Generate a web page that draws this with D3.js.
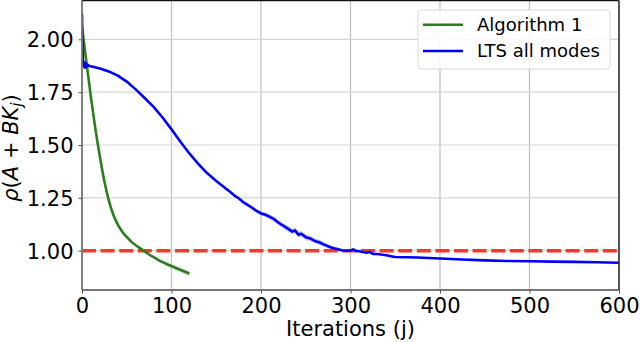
<!DOCTYPE html>
<html>
<head>
<meta charset="utf-8">
<script src="https://cdn.jsdelivr.net/npm/d3@7"></script>
<style>
  html, body { margin: 0; padding: 0; background: #fff; }
  svg { display: block; font-family: "DejaVu Sans", sans-serif; }
</style>
</head>
<body>
<svg id="chart" width="640" height="342"></svg>
<script>
// ---- data ----
const greenIter = [0, 5, 10, 15, 20, 25, 30, 35, 40, 45, 50, 55, 60, 65, 70, 75, 80, 85, 90, 95, 100, 105, 110, 115, 120];
const greenValue = [2.06, 1.89, 1.725, 1.575, 1.445, 1.328, 1.237, 1.170, 1.123, 1.090, 1.065, 1.043, 1.026, 1.011, 0.997, 0.982, 0.969, 0.957, 0.946, 0.936, 0.927, 0.918, 0.909, 0.900, 0.892];
const greenSpread = [0.001, 0.001, 0.001, 0.001, 0.001, 0.001, 0.001, 0.002, 0.002, 0.002, 0.002, 0.003, 0.003, 0.003, 0.004, 0.004, 0.005, 0.006, 0.007, 0.008, 0.009, 0.010, 0.011, 0.011, 0.011];

const blueIter = [0, 1, 2, 3, 4, 5, 6, 8, 10, 20, 30, 40, 50, 60, 70, 80, 90, 100, 110, 120, 130, 140, 150, 160, 165, 170, 175, 180, 185, 190, 195, 200, 205, 210, 215, 220, 225, 230, 235, 238, 242, 245, 250, 255, 260, 265, 270, 275, 280, 285, 290, 295, 300, 303, 306, 310, 315, 318, 321, 325, 330, 340, 345, 350, 375, 400, 425, 450, 475, 500, 525, 550, 575, 600];
const blueValue = [2.12, 1.875, 1.892, 1.866, 1.886, 1.870, 1.880, 1.874, 1.872, 1.862, 1.848, 1.828, 1.800, 1.763, 1.722, 1.680, 1.630, 1.574, 1.515, 1.460, 1.410, 1.366, 1.330, 1.296, 1.280, 1.262, 1.248, 1.230, 1.217, 1.203, 1.188, 1.176, 1.170, 1.160, 1.148, 1.131, 1.118, 1.104, 1.090, 1.096, 1.075, 1.080, 1.064, 1.058, 1.046, 1.040, 1.030, 1.021, 1.013, 1.008, 1.002, 1.000, 1.001, 1.006, 0.999, 0.997, 0.993, 0.990, 0.994, 0.985, 0.984, 0.978, 0.974, 0.970, 0.968, 0.963, 0.958, 0.954, 0.951, 0.950, 0.948, 0.947, 0.945, 0.943];
const blueSpread = [0, 0, 0, 0, 0, 0, 0, 0, 0, 0, 0, 0, 0, 0, 0, 0, 0, 0, 0, 0, 0, 0, 0.001, 0.002, 0.003, 0.004, 0.005, 0.006, 0.007, 0.008, 0.009, 0.010, 0.011, 0.012, 0.012, 0.013, 0.013, 0.014, 0.014, 0.014, 0.014, 0.014, 0.013, 0.013, 0.012, 0.012, 0.011, 0.010, 0.009, 0.008, 0.007, 0.006, 0.005, 0.005, 0.004, 0.004, 0.003, 0.003, 0.003, 0.002, 0.002, 0.002, 0.002, 0.002, 0.001, 0.001, 0.001, 0.001, 0.001, 0.001, 0.001, 0.001, 0.001, 0.001];

const thresholdValue = 1.0;
const xTicks = [0, 100, 200, 300, 400, 500, 600];
const yTicks = [1.00, 1.25, 1.50, 1.75, 2.00];
const seriesNames = ["Algorithm 1", "LTS all modes"];
const xLabel = "Iterations (j)";

// ---- layout ----
const svg = d3.select("#chart");
const mLeft = 82, mRight = 619, mTop = 0.5, mBottom = 290;
const x = d3.scaleLinear().domain([0, 600]).range([mLeft, mRight]);
const y = d3.scaleLinear().domain([0.814, 2.1835]).range([mBottom, mTop]);

const green = "#2b7d1e", blue = "#0000ff", red = "#ee3a2f";

// grid
const grid = svg.append("g");
grid.selectAll("line.gx").data(xTicks).join("line")
  .attr("x1", d => x(d)).attr("x2", d => x(d)).attr("y1", mTop).attr("y2", mBottom)
  .attr("stroke", "#c4c4c4").attr("stroke-width", 1.3);
grid.selectAll("line.gy").data(yTicks).join("line")
  .attr("x1", mLeft).attr("x2", mRight).attr("y1", d => y(d)).attr("y2", d => y(d))
  .attr("stroke", "#d6d6d6").attr("stroke-width", 1.2);

// clip
svg.append("clipPath").attr("id", "clip").append("rect")
  .attr("x", mLeft).attr("y", mTop).attr("width", mRight - mLeft).attr("height", mBottom - mTop);
const plot = svg.append("g").attr("clip-path", "url(#clip)");

const greenData = greenIter.map((d, i) => ({ j: d, v: greenValue[i], s: greenSpread[i] }));
const blueData = blueIter.map((d, i) => ({ j: d, v: blueValue[i], s: blueSpread[i] }));

const area = d3.area().x(d => x(d.j)).y0(d => y(d.v - d.s)).y1(d => y(d.v + d.s));

plot.append("path").datum(greenData).attr("d", area).attr("fill", green).attr("opacity", 0.22);
plot.append("path").datum(blueData).attr("d", area).attr("fill", blue).attr("opacity", 0.2);

// threshold
plot.append("line")
  .attr("x1", x(0)).attr("x2", x(600)).attr("y1", y(thresholdValue)).attr("y2", y(thresholdValue))
  .attr("stroke", red).attr("stroke-width", 3.4).attr("stroke-dasharray", "14,4.6");

plot.append("path").datum(greenData)
  .attr("d", d3.line().x(d => x(d.j)).y(d => y(d.v)).curve(d3.curveMonotoneX))
  .attr("fill", "none").attr("stroke", green).attr("stroke-width", 2.6);
plot.append("path").datum(blueData)
  .attr("d", d3.line().x(d => x(d.j)).y(d => y(d.v)))
  .attr("fill", "none").attr("stroke", blue).attr("stroke-width", 2.6).attr("stroke-linejoin", "round");

// spines
svg.append("line").attr("x1", mLeft).attr("x2", mRight).attr("y1", mTop).attr("y2", mTop).attr("stroke", "#111").attr("stroke-width", 1.6);
svg.append("line").attr("x1", mRight).attr("x2", mRight).attr("y1", mTop).attr("y2", mBottom).attr("stroke", "#333").attr("stroke-width", 1.6);
svg.append("line").attr("x1", mLeft).attr("x2", mLeft).attr("y1", mTop).attr("y2", mBottom).attr("stroke", "#777").attr("stroke-width", 1.8);
svg.append("line").attr("x1", mLeft).attr("x2", mRight).attr("y1", mBottom).attr("y2", mBottom).attr("stroke", "#777").attr("stroke-width", 1.8);

// axes
const xAxis = d3.axisBottom(x).tickValues(xTicks).tickFormat(d3.format("d")).tickSize(3.5).tickPadding(4);
const gx = svg.append("g").attr("transform", `translate(0,${mBottom})`).call(xAxis);
gx.select(".domain").remove();
gx.selectAll(".tick line").attr("stroke", "#555");
gx.selectAll(".tick text").attr("font-size", 21).attr("font-family", "DejaVu Sans").attr("fill", "#000").attr("dy", "0.72em");

const yAxis = d3.axisLeft(y).tickValues(yTicks).tickFormat(d3.format(".2f")).tickSize(3.5).tickPadding(5);
const gy = svg.append("g").attr("transform", `translate(${mLeft},0)`).call(yAxis);
gy.select(".domain").remove();
gy.selectAll(".tick line").attr("stroke", "#555");
gy.selectAll(".tick text").attr("font-size", 21).attr("font-family", "DejaVu Sans").attr("fill", "#000").attr("dy", "0.36em");

// x label
svg.append("text").attr("x", (mLeft + mRight) / 2).attr("y", 336).attr("text-anchor", "middle")
  .attr("font-size", 21).attr("fill", "#000").text(xLabel);

// y label
const yl = svg.append("text").attr("transform", "translate(17.5,148) rotate(-90)")
  .attr("text-anchor", "middle").attr("font-size", 21).attr("fill", "#000");
yl.append("tspan").attr("font-style", "italic").text("ρ");
yl.append("tspan").text("(");
yl.append("tspan").attr("font-style", "italic").text("A");
yl.append("tspan").text(" + ");
yl.append("tspan").attr("font-style", "italic").text("BK");
yl.append("tspan").attr("font-style", "italic").attr("font-size", 15).attr("dy", 4).text("j");
yl.append("tspan").attr("dy", -4).text(")");

// legend
const lg = svg.append("g");
lg.append("rect").attr("x", 418).attr("y", 10).attr("width", 192).attr("height", 59).attr("rx", 3)
  .attr("fill", "#fff").attr("fill-opacity", 0.85).attr("stroke", "#d8d8d8").attr("stroke-width", 1);
const legendColors = [green, blue];
const legendY = [24.7, 51];
seriesNames.forEach((name, i) => {
  lg.append("line").attr("x1", 423).attr("x2", 463).attr("y1", legendY[i]).attr("y2", legendY[i])
    .attr("stroke", legendColors[i]).attr("stroke-width", 2.6);
  lg.append("text").attr("x", 477).attr("y", legendY[i]).attr("dy", "0.36em")
    .attr("font-size", 18).attr("fill", "#000").text(name);
});
</script>
</body>
</html>
